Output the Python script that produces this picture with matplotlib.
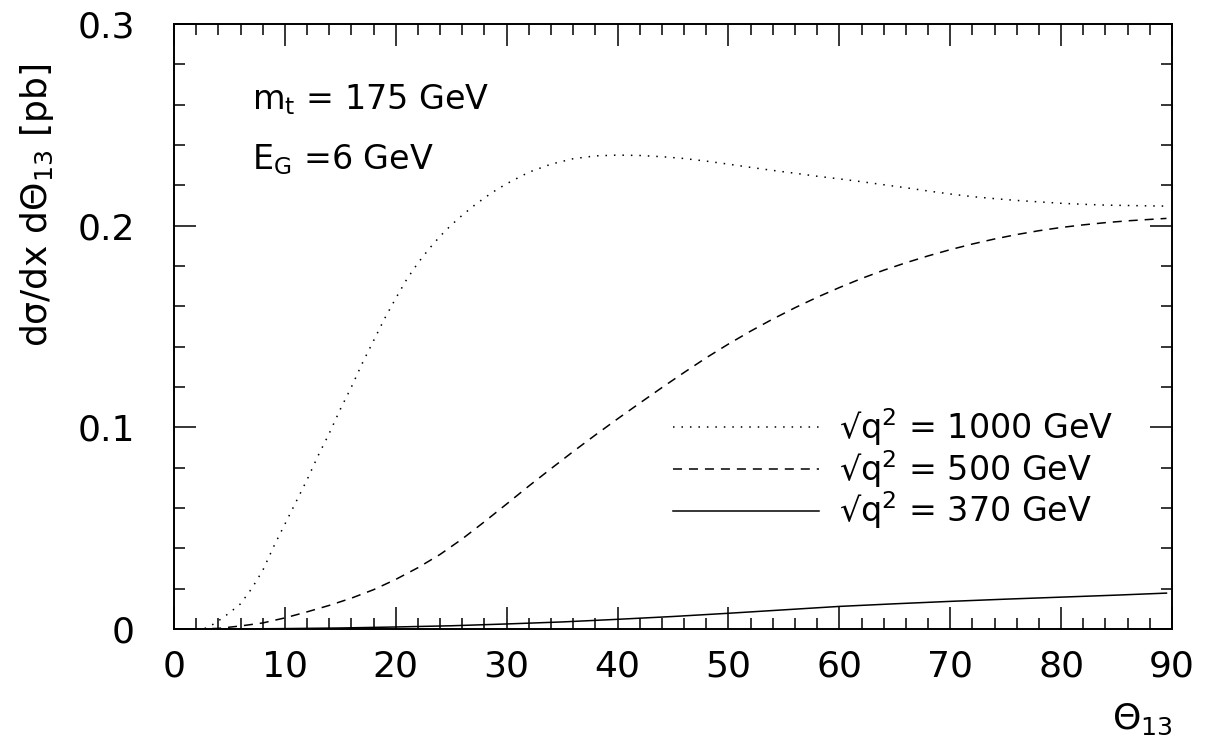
import matplotlib
matplotlib.use("Agg")
import matplotlib.pyplot as plt
from matplotlib.ticker import MultipleLocator

plt.rcParams['font.family'] = ['DejaVu Sans']
plt.rcParams['lines.scale_dashes'] = False

# Differential cross section vs. angle theta_13 for three c.m. energies
theta_1000 = [2, 3, 4, 5, 6, 7, 8, 9, 10, 11, 12, 13, 14, 15, 16, 17, 18, 19, 20,
              21, 22, 23, 24, 25, 26, 27, 28, 29, 30, 32, 34, 36, 38, 40, 42, 44,
              46, 48, 50, 52, 54, 56, 58, 60, 62, 64, 66, 68, 70, 72, 74, 76, 78,
              80, 82, 84, 86, 88, 89.5]
sigma_1000 = [0.0, 0.0005, 0.004, 0.008, 0.0125, 0.020, 0.029, 0.041, 0.052, 0.063,
              0.074, 0.086, 0.097, 0.109, 0.120, 0.132, 0.143, 0.154, 0.164,
              0.1735, 0.1815, 0.1885, 0.1948, 0.2003, 0.2052, 0.2097, 0.2138,
              0.2175, 0.2208, 0.2265, 0.2305, 0.2332, 0.2346, 0.235, 0.2348,
              0.2342, 0.2333, 0.232, 0.2305, 0.2289, 0.2274, 0.226, 0.2245,
              0.2232, 0.2218, 0.2203, 0.2188, 0.2172, 0.2157, 0.2144, 0.2134,
              0.2125, 0.2118, 0.2111, 0.2106, 0.2102, 0.2100, 0.2098, 0.2097]

theta_500 = [2, 4, 6, 8, 10, 12, 14, 16, 18, 20, 22, 24, 26, 28, 30, 32, 34, 36,
             38, 40, 42, 44, 46, 48, 50, 52, 54, 56, 58, 60, 62, 64, 66, 68, 70,
             72, 74, 76, 78, 80, 82, 84, 86, 88, 89.5]
sigma_500 = [0.0, 0.0003, 0.0015, 0.003, 0.0055, 0.0085, 0.0117, 0.0153, 0.0195,
             0.0246, 0.0304, 0.037, 0.0447, 0.0532, 0.062, 0.0709, 0.0795, 0.088,
             0.0962, 0.1042, 0.112, 0.1197, 0.1272, 0.1345, 0.1413, 0.1477,
             0.1537, 0.1593, 0.1645, 0.1693, 0.1738, 0.1779, 0.1816, 0.185,
             0.1881, 0.1909, 0.1934, 0.1956, 0.1975, 0.1991, 0.2004, 0.2015,
             0.2024, 0.2031, 0.2036]

theta_370 = [0, 5, 10, 15, 20, 25, 30, 35, 40, 45, 50, 55, 60, 65, 70, 75, 80,
             85, 89.5]
sigma_370 = [0.0, 0.0, 0.0002, 0.0005, 0.001, 0.0016, 0.0025, 0.0035, 0.0048,
             0.0062, 0.0078, 0.0095, 0.0112, 0.0125, 0.0137, 0.0148, 0.0158,
             0.0168, 0.0178]

labels = ['√q$^2$ = 1000 GeV', '√q$^2$ = 500 GeV', '√q$^2$ = 370 GeV']
xticks = [0, 10, 20, 30, 40, 50, 60, 70, 80, 90]
yticks = [0, 0.1, 0.2, 0.3]
ytick_labels = ['0', '0.1', '0.2', '0.3']

dotted = (0, (1.1, 5.0))
dashed = (0, (6.5, 5.0))

fig = plt.figure(figsize=(12.09, 7.55), dpi=100)
ax = fig.add_axes([174 / 1209, 1 - 629 / 755, 998 / 1209, 605 / 755])

lw = 1.1
l1, = ax.plot(theta_1000, sigma_1000, color='black', lw=lw, linestyle=dotted)
l2, = ax.plot(theta_500, sigma_500, color='black', lw=lw, linestyle=dashed)
l3, = ax.plot(theta_370, sigma_370, color='black', lw=lw, linestyle='-')

ax.set_xlim(0, 90)
ax.set_ylim(0, 0.3)
ax.set_xticks(xticks)
ax.set_xticklabels([str(t) for t in xticks])
ax.set_yticks(yticks)
ax.set_yticklabels(ytick_labels)
ax.xaxis.set_minor_locator(MultipleLocator(2))
ax.yaxis.set_minor_locator(MultipleLocator(0.02))

ax.tick_params(which='both', direction='in', top=True, right=True, width=1.1,
               color='black')
ax.tick_params(which='major', length=16, labelsize=26)
ax.tick_params(which='minor', length=8)
ax.tick_params(axis='x', which='major', pad=15)
ax.tick_params(axis='y', which='major', pad=28)
for sp in ax.spines.values():
    sp.set_linewidth(1.4)

ax.set_ylabel('dσ/dx dΘ$_{\\mathrm{13}}$ [pb]', fontsize=26)
ax.yaxis.set_label_coords(-0.118, 0.7)
ax.set_xlabel('Θ$_{\\mathrm{13}}$', fontsize=26)
ax.xaxis.set_label_coords(0.97, -0.12)

ax.text(0.078, 0.875, 'm$_\\mathrm{t}$ = 175 GeV', transform=ax.transAxes,
        fontsize=24, va='center', ha='left')
ax.text(0.078, 0.775, 'E$_\\mathrm{G}$ =6 GeV', transform=ax.transAxes,
        fontsize=24, va='center', ha='left')

leg = ax.legend([l1, l2, l3], labels, loc='upper left',
                bbox_to_anchor=(0.483, 0.396), frameon=False, fontsize=24,
                handlelength=4.4, handletextpad=0.6, labelspacing=0.0,
                borderpad=0.0)

fig.savefig('out.png', dpi=100, facecolor='white')
